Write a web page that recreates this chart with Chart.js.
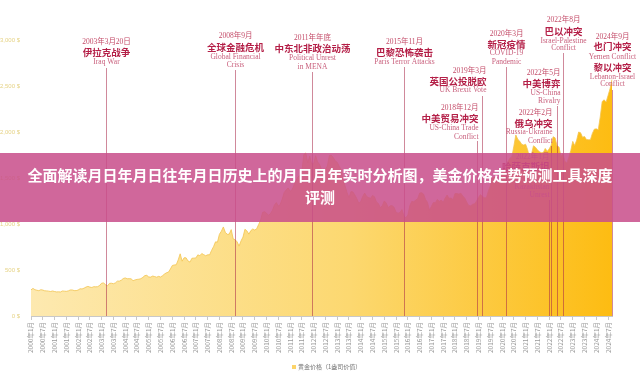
<!DOCTYPE html>
<html>
<head>
<meta charset="utf-8">
<script src="https://cdn.jsdelivr.net/npm/chart.js@4"></script>
<style>
body { margin: 0; background: #fff; }
#wrap { position: relative; width: 640px; height: 374px; overflow: hidden; }
#banner {
    position: absolute; left: 0; top: 153px; width: 640px; height: 69px;
    box-sizing: border-box; padding-top: 11px;
    background: rgba(200, 78, 138, 0.86); color: #fff;
    font: bold 15px "Noto Sans CJK SC", sans-serif; line-height: 22px; text-align: center;
}
</style>
</head>
<body>
<div id="wrap">
    <canvas id="goldChart" width="640" height="374"></canvas>
    <div id="banner">全面解读月日年月日往年月日历史上的月日月年实时分析图，美金价格走势预测工具深度<br>评测</div>
</div>
<script>
// monthly categories, 2000年1月 .. 2024年9月
const months = [];
for (let y = 2000; y <= 2024; y++) {
    for (let m = 1; m <= 12; m++) {
        if (y === 2024 && m > 9) break;
        months.push(y + '年' + m + '月');
    }
}

// gold price, USD per ounce (one row per year)
const goldPrice = [
    284, 300, 286, 280, 275, 286, 282, 274, 273, 270, 266, 272,          // 2000
    266, 262, 263, 261, 272, 270, 268, 273, 283, 283, 276, 276,          // 2001
    282, 296, 294, 302, 314, 322, 314, 310, 319, 317, 319, 333,          // 2002
    357, 359, 340, 328, 355, 356, 351, 360, 379, 379, 389, 407,          // 2003
    414, 405, 406, 404, 384, 392, 398, 400, 406, 420, 439, 442,          // 2004
    424, 423, 434, 429, 422, 431, 424, 438, 456, 470, 476, 510,          // 2005
    549, 555, 557, 610, 676, 596, 633, 632, 598, 586, 628, 629,          // 2006
    631, 665, 655, 679, 667, 655, 665, 665, 713, 754, 806, 803,          // 2007
    889, 922, 968, 909, 888, 890, 939, 839, 829, 806, 760, 816,          // 2008
    858, 943, 925, 890, 928, 946, 934, 949, 996, 1043, 1127, 1134,       // 2009
    1118, 1095, 1113, 1148, 1205, 1233, 1193, 1215, 1271, 1343, 1370, 1392, // 2010
    1356, 1372, 1424, 1474, 1512, 1529, 1573, 1756, 1772, 1665, 1739, 1652, // 2011
    1656, 1743, 1675, 1649, 1591, 1598, 1594, 1630, 1744, 1747, 1722, 1685, // 2012
    1671, 1628, 1593, 1487, 1414, 1343, 1286, 1352, 1349, 1316, 1275, 1225, // 2013
    1244, 1300, 1336, 1299, 1287, 1279, 1311, 1296, 1239, 1222, 1176, 1201, // 2014
    1251, 1227, 1179, 1198, 1199, 1181, 1128, 1118, 1125, 1157, 1086, 1068, // 2015
    1097, 1200, 1246, 1242, 1260, 1276, 1337, 1341, 1326, 1267, 1236, 1151, // 2016
    1192, 1234, 1231, 1267, 1246, 1261, 1236, 1283, 1315, 1280, 1283, 1265, // 2017
    1331, 1331, 1325, 1335, 1303, 1282, 1238, 1202, 1198, 1215, 1221, 1250, // 2018
    1291, 1320, 1300, 1286, 1284, 1359, 1413, 1500, 1510, 1495, 1471, 1480, // 2019
    1560, 1597, 1591, 1683, 1716, 1732, 1846, 1968, 1921, 1900, 1866, 1858, // 2020
    1867, 1808, 1718, 1760, 1850, 1834, 1807, 1785, 1775, 1777, 1821, 1790, // 2021
    1816, 1856, 1948, 1937, 1849, 1837, 1733, 1765, 1681, 1665, 1726, 1798, // 2022
    1898, 1854, 1912, 2000, 1992, 1943, 1951, 1918, 1916, 1916, 1985, 2031, // 2023
    2034, 2024, 2163, 2331, 2350, 2326, 2398, 2470, 2570                   // 2024
];

const legendLabel = '黄金价格（1盎司价值）';

// events: month on the axis + label rows (d = date, c = chinese title, e = english)
const eventMonths = ['2003年3月', '2008年9月', '2011年12月', '2015年11月', '2018年12月', '2019年3月',
    '2020年3月', '2022年1月', '2022年2月', '2022年5月', '2022年8月', '2024年9月'];
const eventText = [
    [['d', '2003年3月20日'], ['c', '伊拉克战争'], ['e', 'Iraq War']],
    [['d', '2008年9月'], ['c', '全球金融危机'], ['e', 'Global Financial'], ['e', 'Crisis']],
    [['d', '2011年年底'], ['c', '中东北非政治动荡'], ['e', 'Political Unrest'], ['e', 'in MENA']],
    [['d', '2015年11月'], ['c', '巴黎恐怖袭击'], ['e', 'Paris Terror Attacks']],
    [['d', '2018年12月'], ['c', '中美贸易冲突'], ['e', 'US-China Trade'], ['e', 'Conflict']],
    [['d', '2019年3月'], ['c', '英国公投脱欧'], ['e', 'UK Brexit Vote']],
    [['d', '2020年3月'], ['c', '新冠疫情'], ['e', 'COVID-19'], ['e', 'Pandemic']],
    [['d', '2022年1月'], ['c', '哈萨克斯坦'], ['e', 'Kazakhstan'], ['e', 'Unrest']],
    [['d', '2022年2月'], ['c', '俄乌冲突'], ['e', 'Russia-Ukraine'], ['e', 'Conflict']],
    [['d', '2022年5月'], ['c', '中美博弈'], ['e', 'US-China'], ['e', 'Rivalry']],
    [['d', '2022年8月'], ['c', '巴以冲突'], ['e', 'Israel-Palestine'], ['e', 'Conflict']],
    [['d', '2024年9月'], ['c', '也门冲突'], ['e', 'Yemen Conflict'], ['c', '黎以冲突'], ['e', 'Lebanon-Israel'], ['e', 'Conflict']]
];

// where each label block sits (row y's, line start, alignment)
const eventLayout = [
    { rows: [42, 52, 62], line: 68, align: 'center', dx: 0 },
    { rows: [36, 47, 57, 65], line: 70, align: 'center', dx: 0 },
    { rows: [38, 48, 58, 67], line: 72, align: 'center', dx: 0 },
    { rows: [42, 52, 62], line: 67, align: 'center', dx: 0 },
    { rows: [108, 118, 128, 137], line: 141, align: 'right', dx: 1 },
    { rows: [71, 81, 90], line: 96, align: 'right', dx: 4 },
    { rows: [34, 44, 53, 62], line: 67, align: 'center', dx: 0 },
    { rows: [157, 166, 187, 195], line: 200, align: 'right', dx: 0 },
    { rows: [113, 123, 132, 141], line: 146, align: 'right', dx: 1 },
    { rows: [73, 83, 93, 101], line: 106, align: 'right', dx: 3 },
    { rows: [20, 31, 41, 48], line: 53, align: 'center', dx: 0 },
    { rows: [37, 46, 57, 67, 77, 84], line: 90, align: 'center', dx: 0 }
];
const rowStyle = {
    d: { font: '7.5px "Liberation Serif", "Noto Sans CJK SC"', color: '#c44c69' },
    c: { font: 'bold 9.5px "Noto Sans CJK SC"', color: '#b41f47' },
    e: { font: '7.5px "Liberation Serif"', color: '#c9607d' }
};

function areaGradient(chart) {
    const area = chart.chartArea;
    if (!area) return '#fcd66a';
    const g = chart.ctx.createLinearGradient(area.left, 0, area.right, 0);
    g.addColorStop(0, '#fde9b0');
    g.addColorStop(0.55, '#fcd870');
    g.addColorStop(1, '#fdbc12');
    return g;
}

const eventPlugin = {
    id: 'events',
    afterDatasetsDraw(chart) {
        const c = chart.ctx;
        const xs = chart.scales.x;
        const bottom = chart.chartArea.bottom;
        c.save();
        eventMonths.forEach(function(m, i) {
            const x = Math.round(xs.getPixelForValue(months.indexOf(m))) + 0.5;
            const lay = eventLayout[i];
            c.strokeStyle = 'rgba(170, 40, 72, 0.55)';
            c.lineWidth = 1;
            c.beginPath();
            c.moveTo(x, lay.line);
            c.lineTo(x, bottom);
            c.stroke();
            c.textAlign = lay.align;
            c.textBaseline = 'middle';
            eventText[i].forEach(function(row, j) {
                c.font = rowStyle[row[0]].font;
                c.fillStyle = rowStyle[row[0]].color;
                c.fillText(row[1], x + lay.dx, lay.rows[j]);
            });
        });
        // legend
        c.fillStyle = '#fcd46a';
        c.fillRect(292, 365, 4, 4);
        c.font = '6px "Noto Sans CJK SC"';
        c.fillStyle = '#777';
        c.textAlign = 'left';
        c.fillText(legendLabel, 298, 367);
        c.restore();
    }
};

new Chart(document.getElementById('goldChart'), {
    type: 'line',
    data: {
        labels: months,
        datasets: [{
            label: legendLabel,
            data: goldPrice,
            fill: 'origin',
            pointRadius: 0,
            borderWidth: 1,
            borderColor: 'rgba(243, 196, 80, 0.8)',
            backgroundColor: function(ctx) { return areaGradient(ctx.chart); }
        }]
    },
    options: {
        responsive: false,
        animation: false,
        layout: { padding: { top: 40, right: 28, left: 0, bottom: 0 } },
        plugins: { legend: { display: false }, tooltip: { enabled: false } },
        scales: {
            x: {
                ticks: {
                    autoSkip: false, maxRotation: 90, minRotation: 90, padding: 2,
                    color: '#9a9a9a', font: { size: 6.5, family: '"Noto Sans CJK SC"' },
                    callback: function(v, i) { return i % 6 === 0 ? months[i] : null; }
                },
                grid: { drawOnChartArea: false, tickLength: 4, color: '#c8c8c8' },
                border: { color: '#c8c8c8' },
                afterFit: function(s) { s.height = 58; }
            },
            y: {
                min: 0, max: 3000,
                ticks: {
                    stepSize: 500, color: '#e6d386', font: { size: 6 },
                    callback: function(v) { return v.toLocaleString('en-US') + ' $'; }
                },
                grid: { display: false },
                border: { display: false },
                afterFit: function(s) { s.width = 31; }
            }
        }
    },
    plugins: [eventPlugin]
});
</script>
</body>
</html>
